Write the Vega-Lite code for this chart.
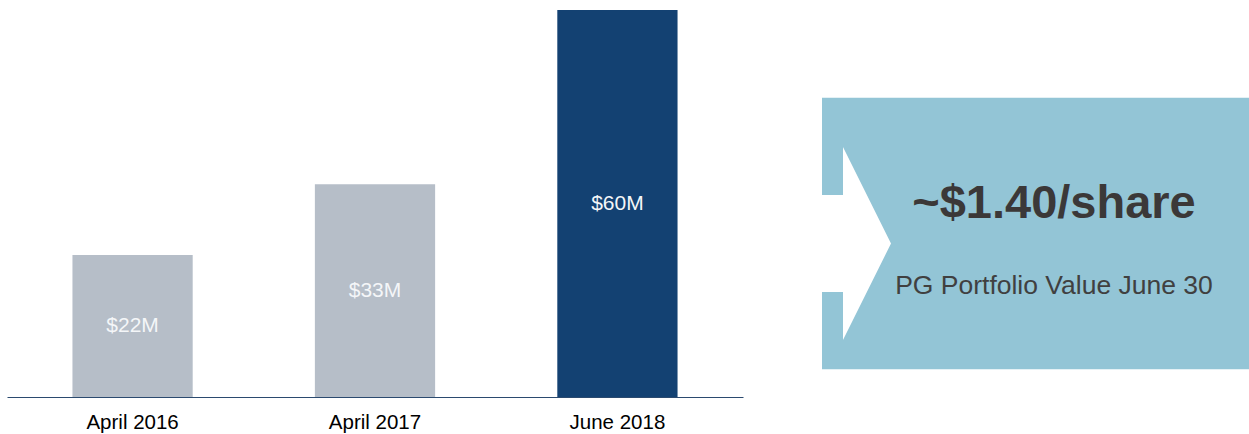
{
  "$schema": "https://vega.github.io/schema/vega-lite/v6.json",
  "background": "white",
  "padding": {"left": 7, "top": 10, "right": 0, "bottom": 0},
  "spacing": 78,
  "config": {
    "view": {"stroke": null},
    "font": "Liberation Sans"
  },
  "hconcat": [
    {
      "width": 736,
      "height": 387,
      "data": {
        "values": [
          {"period": "April 2016", "value": 22, "label": "$22M"},
          {"period": "April 2017", "value": 33, "label": "$33M"},
          {"period": "June 2018", "value": 60, "label": "$60M"}
        ]
      },
      "encoding": {
        "x": {
          "field": "period",
          "type": "nominal",
          "sort": null,
          "scale": {"paddingInner": 0.504, "paddingOuter": 0.27},
          "axis": {
            "title": null,
            "labelAngle": 0,
            "ticks": false,
            "labelPadding": 15,
            "labelFontSize": 20.5,
            "labelColor": "#000000",
            "labelFont": "Liberation Sans",
            "domainColor": "#2B4A6F",
            "domainWidth": 1
          }
        }
      },
      "layer": [
        {
          "mark": {"type": "bar"},
          "encoding": {
            "y": {"field": "value", "type": "quantitative", "scale": {"domain": [0, 60], "nice": false}, "axis": null},
            "color": {
              "field": "period",
              "type": "nominal",
              "scale": {"domain": ["April 2016", "April 2017", "June 2018"], "range": ["#B6BEC8", "#B6BEC8", "#134172"]},
              "legend": null
            }
          }
        },
        {
          "transform": [{"calculate": "datum.value / 2", "as": "mid"}],
          "mark": {"type": "text", "baseline": "middle", "align": "center", "fontSize": 21, "color": "#F4F6F8", "font": "Liberation Sans"},
          "encoding": {
            "y": {"field": "mid", "type": "quantitative", "scale": {"domain": [0, 60], "nice": false}, "axis": null},
            "text": {"field": "label", "type": "nominal"}
          }
        }
      ]
    },
    {
      "width": 428,
      "height": 387,
      "data": {"values": [{"headline": "~$1.40/share", "caption": "PG Portfolio Value June 30"}]},
      "layer": [
        {
          "mark": {"type": "rect", "color": "#93C5D6"},
          "encoding": {
            "x": {"datum": 0, "type": "quantitative", "scale": {"domain": [0, 1], "nice": false, "zero": false}, "axis": null},
            "x2": {"datum": 1},
            "y": {"datum": 0.227, "type": "quantitative", "scale": {"domain": [0, 1], "nice": false, "reverse": true}, "axis": null},
            "y2": {"datum": 0.928}
          }
        },
        {
          "mark": {
            "type": "point",
            "shape": "M-35,-48.5 L-13.5,-48.5 L-13.5,-96.5 L34.5,0 L-13.5,96.5 L-13.5,48.5 L-35,48.5 Z",
            "size": 4,
            "filled": true,
            "fill": "#FFFFFF",
            "opacity": 1,
            "strokeWidth": 0
          },
          "encoding": {
            "x": {"datum": 0.0806, "type": "quantitative"},
            "y": {"datum": 0.6034, "type": "quantitative"}
          }
        },
        {
          "mark": {"type": "text", "align": "center", "baseline": "alphabetic", "fontSize": 47, "fontWeight": "bold", "color": "#3B3838", "font": "Liberation Sans"},
          "encoding": {
            "x": {"datum": 0.542, "type": "quantitative"},
            "y": {"datum": 0.5375, "type": "quantitative"},
            "text": {"field": "headline", "type": "nominal"}
          }
        },
        {
          "mark": {"type": "text", "align": "center", "baseline": "alphabetic", "fontSize": 26.5, "color": "#404040", "font": "Liberation Sans"},
          "encoding": {
            "x": {"datum": 0.542, "type": "quantitative"},
            "y": {"datum": 0.734, "type": "quantitative"},
            "text": {"field": "caption", "type": "nominal"}
          }
        }
      ]
    }
  ]
}
